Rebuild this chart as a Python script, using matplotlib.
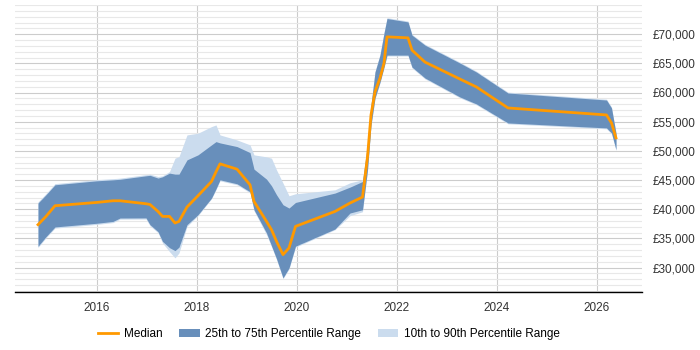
import matplotlib
matplotlib.use("Agg")
import matplotlib.pyplot as plt
from matplotlib.lines import Line2D
from matplotlib.patches import Patch
from matplotlib.ticker import FuncFormatter, MultipleLocator, FixedLocator

plt.rcParams["font.family"] = ["Liberation Sans", "DejaVu Sans"]

# sample dates as decimal years
years = [2014.83, 2014.99, 2015.17, 2016.0, 2016.33, 2016.47, 2016.99, 2017.07, 2017.23,
         2017.32, 2017.46, 2017.57, 2017.65, 2017.81, 2018.03, 2018.3, 2018.39, 2018.47,
         2018.81, 2019.07, 2019.15, 2019.4, 2019.5, 2019.6, 2019.73, 2019.85, 2019.98,
         2020.77, 2021.07, 2021.32, 2021.42, 2021.49, 2021.57, 2021.67, 2021.75, 2021.81,
         2022.23, 2022.31, 2022.57, 2023.27, 2023.6, 2024.23, 2026.2, 2026.3, 2026.39]

p50 = [37340, 38760, 40590, 41150, 41440, 41440, 40930, 40800, 39610,
       38760, 38760, 37630, 37900, 40370, 42300, 44740, 46400, 47770,
       46860, 44180, 41320, 37900, 36480, 34480, 32210, 33350, 37050,
       39610, 41050, 42080, 48970, 56150, 60130, 62480, 65040, 69540,
       69370, 67260, 65210, 62300, 60940, 57350, 56150, 54780, 52220]

p25 = [33630, 35290, 36950, 37580, 37900, 38480, 38500, 37340, 36140,
       34480, 33400, 32890, 33490, 37340, 39050, 41900, 43500, 45030,
       44350, 42980, 39900, 35920, 33720, 31520, 28220, 29930, 33660,
       36600, 39340, 39900, 46740, 54440, 59060, 61790, 64360, 66410,
       66410, 64360, 62480, 59230, 58030, 54780, 53930, 53070, 50200]

p75 = [41050, 42470, 44180, 44860, 45030, 45120, 45720, 45800, 45330,
       45550, 46180, 46010, 46010, 48450, 49310, 51020, 51580, 51360,
       50730, 49700, 46860, 45150, 44010, 42470, 40760, 40190, 41150,
       42760, 43780, 44740, 51020, 57860, 63500, 66410, 70170, 72680,
       72100, 69830, 68120, 65040, 63500, 59910, 58710, 57350, 53000]

p10 = [33430, 35090, 36750, 37380, 37700, 38280, 38300, 37140, 35970,
       34210, 32720, 31650, 32500, 37050, 38880, 41780, 43320, 44860,
       44180, 42810, 39730, 35630, 33550, 31350, 28100, 29730, 33490,
       36480, 38880, 39560, 46590, 54290, 58910, 61640, 64210, 66260,
       66260, 64210, 62330, 59080, 57880, 54630, 53780, 52920, 50050]

p90 = [41250, 42670, 44380, 45060, 45230, 45320, 45920, 46000, 45600,
       45720, 46450, 48740, 49020, 52730, 53020, 54150, 54440, 52730,
       51870, 51020, 49310, 48970, 48740, 46740, 44470, 42300, 42640,
       43320, 44520, 45030, 51170, 58010, 63650, 66560, 70320, 72830,
       72250, 69980, 68270, 65190, 63650, 60060, 58860, 57500, 53150]

year_ticks = [2016, 2018, 2020, 2022, 2024, 2026]
salary_ticks = [30000, 35000, 40000, 45000, 50000, 55000, 60000, 65000, 70000]

DARK = "#688fbb"
LIGHT = "#cbdcee"
ORANGE = "#ff9900"

fig = plt.figure(figsize=(7, 3.5), dpi=100)
ax = fig.add_axes([15 / 700, 1 - 292 / 350, 627 / 700, 287 / 350])

ax.fill_between(years, p10, p90, color=LIGHT, linewidth=0, zorder=2)
ax.fill_between(years, p25, p75, color=DARK, linewidth=0, zorder=3)
ax.plot(years, p50, color=ORANGE, linewidth=2, zorder=4)

ax.set_xlim(2014.37, 2026.91)
ax.set_ylim(25800, 75000)

ax.set_xticks(year_ticks)
ax.set_xticklabels([str(y) for y in year_ticks])
ax.yaxis.set_major_locator(FixedLocator(salary_ticks))
ax.yaxis.set_minor_locator(MultipleLocator(1000))
ax.yaxis.set_major_formatter(FuncFormatter(lambda v, _: f"£{int(v):,}"))
ax.yaxis.tick_right()
ax.tick_params(axis="both", which="both", length=0, labelsize=8.5, colors="#333333")
ax.tick_params(axis="y", pad=8)
ax.tick_params(axis="x", pad=7)

ax.grid(which="major", axis="both", color="#cccccc", linewidth=0.8, zorder=0)
ax.grid(which="minor", axis="y", color="#e8e8e8", linewidth=0.8, zorder=0)
ax.set_axisbelow(True)

for side in ["top", "left", "right"]:
    ax.spines[side].set_visible(False)
ax.spines["bottom"].set_color("black")
ax.spines["bottom"].set_linewidth(1)

handles = [
    Line2D([0], [0], color=ORANGE, linewidth=2),
    Patch(facecolor=DARK, edgecolor="none"),
    Patch(facecolor=LIGHT, edgecolor="none"),
]
labels = ["Median", "25th to 75th Percentile Range", "10th to 90th Percentile Range"]
fig.legend(handles, labels, loc="center", bbox_to_anchor=(329 / 700, 1 - 334 / 350),
           ncol=3, frameon=False, fontsize=8.5, handlelength=1.7, columnspacing=1.4,
           handletextpad=0.5)

fig.savefig("out.png", dpi=100)
